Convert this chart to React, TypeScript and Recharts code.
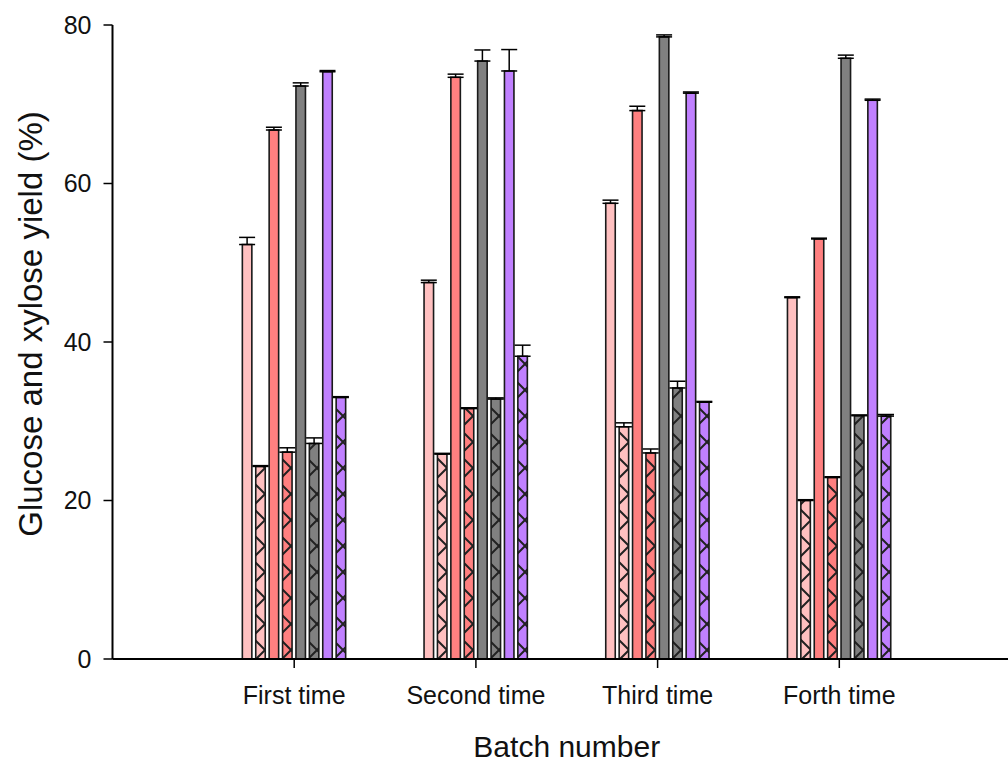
import { BarChart, Bar, XAxis, YAxis, ErrorBar } from 'recharts';

const categories = ['First time', 'Second time', 'Third time', 'Forth time'];
const positions = [1, 2, 3, 4];
const yTicks = [0, 20, 40, 60, 80];

// glucose (plain) / xylose (hatched) yields, 4 conditions per batch
const glucoseA = [52.3, 47.5, 57.5, 45.6];
const xyloseA = [24.3, 25.85, 29.3, 20.0];
const glucoseB = [66.75, 73.4, 69.2, 53.0];
const xyloseB = [26.1, 31.6, 26.0, 22.9];
const glucoseC = [72.3, 75.45, 78.5, 75.8];
const xyloseC = [27.2, 32.8, 34.2, 30.7];
const glucoseD = [74.1, 74.2, 71.4, 70.5];
const xyloseD = [33.0, 38.2, 32.4, 30.65];

const errGlucoseA = [0.9, 0.3, 0.4, 0.1];
const errXyloseA = [0.1, 0.1, 0.5, 0.1];
const errGlucoseB = [0.35, 0.4, 0.55, 0.1];
const errXyloseB = [0.55, 0.1, 0.5, 0.1];
const errGlucoseC = [0.4, 1.4, 0.25, 0.4];
const errXyloseC = [0.7, 0.15, 0.85, 0.1];
const errGlucoseD = [0.15, 2.7, 0.15, 0.15];
const errXyloseD = [0.1, 1.4, 0.1, 0.2];

const series = [
  { key: 'gA', values: glucoseA, errors: errGlucoseA, color: '#ffc0c0', hatch: false },
  { key: 'xA', values: xyloseA, errors: errXyloseA, color: '#ffc0c0', hatch: true },
  { key: 'gB', values: glucoseB, errors: errGlucoseB, color: '#ff8080', hatch: false },
  { key: 'xB', values: xyloseB, errors: errXyloseB, color: '#ff8080', hatch: true },
  { key: 'gC', values: glucoseC, errors: errGlucoseC, color: '#808080', hatch: false },
  { key: 'xC', values: xyloseC, errors: errXyloseC, color: '#808080', hatch: true },
  { key: 'gD', values: glucoseD, errors: errGlucoseD, color: '#c080ff', hatch: false },
  { key: 'xD', values: xyloseD, errors: errXyloseD, color: '#c080ff', hatch: true },
];

const data = positions.map((p, i) => {
  const row: Record<string, any> = { x: p, name: categories[i] };
  series.forEach((s) => {
    row[s.key] = s.values[i];
    row[s.key + 'Err'] = [0, s.errors[i]];
  });
  return row;
});

const FONT = '"Liberation Sans", Arial, sans-serif';

const YLabel = (props: any) => {
  const vb = props.viewBox;
  const x = vb.x + 30;
  const y = vb.y + vb.height / 2 - 18;
  return (
    <text
      x={x}
      y={y}
      transform={`rotate(-90, ${x}, ${y})`}
      textAnchor="middle"
      dominantBaseline="central"
      fontSize={33}
      fill="#111"
      fontFamily={FONT}
    >
      Glucose and xylose yield (%)
    </text>
  );
};

export default function App() {
  return (
    <div
      style={{
        position: 'fixed',
        left: 0,
        top: 0,
        width: 1008,
        height: 762,
        overflow: 'hidden',
        background: '#fff',
        fontFamily: FONT,
      }}
    >
      <BarChart
        width={1040}
        height={762}
        data={data}
        margin={{ top: 25, right: 19, bottom: 43, left: 0 }}
        barSize={9.5}
        barGap={3.9}
      >
        <defs>
          {series
            .filter((s) => s.hatch)
            .map((s) => (
              <pattern
                key={s.key}
                id={'hatch-' + s.key}
                patternUnits="userSpaceOnUse"
                width={26}
                height={26}
                x={5}
              >
                <rect width={26} height={26} fill={s.color} />
                <path d="M0,0 L26,26 M26,0 L0,26" stroke="#222" strokeWidth={2} />
              </pattern>
            ))}
        </defs>
        <XAxis
          dataKey="x"
          type="number"
          domain={[0, 5]}
          ticks={positions}
          tickFormatter={(v: number) => categories[v - 1]}
          height={60}
          tickSize={9}
          tickMargin={18}
          axisLine={{ stroke: '#000', strokeWidth: 2 }}
          tickLine={{ stroke: '#000', strokeWidth: 1.5 }}
          tick={{ fontSize: 25, fill: '#111', fontFamily: FONT }}
          label={{
            value: 'Batch number',
            position: 'bottom',
            offset: 17,
            fontSize: 30,
            fill: '#111',
            fontFamily: FONT,
          }}
        />
        <XAxis
          xAxisId="top"
          orientation="top"
          type="number"
          domain={[0, 5]}
          height={0}
          tick={false}
          tickLine={false}
          axisLine={{ stroke: '#000', strokeWidth: 2 }}
        />
        <YAxis
          type="number"
          domain={[0, 80]}
          ticks={yTicks}
          width={112.5}
          tickSize={9}
          tickMargin={12}
          axisLine={{ stroke: '#000', strokeWidth: 2 }}
          tickLine={{ stroke: '#000', strokeWidth: 1.5 }}
          tick={{ fontSize: 25, fill: '#111', fontFamily: FONT }}
          label={<YLabel />}
        />
        {series.map((s) => (
          <Bar
            key={s.key}
            dataKey={s.key}
            fill={s.hatch ? `url(#hatch-${s.key})` : s.color}
            stroke="#1a1a1a"
            strokeWidth={1.6}
            isAnimationActive={false}
          >
            <ErrorBar dataKey={s.key + 'Err'} width={8} stroke="#000" strokeWidth={1.5} direction="y" />
          </Bar>
        ))}
      </BarChart>
    </div>
  );
}
